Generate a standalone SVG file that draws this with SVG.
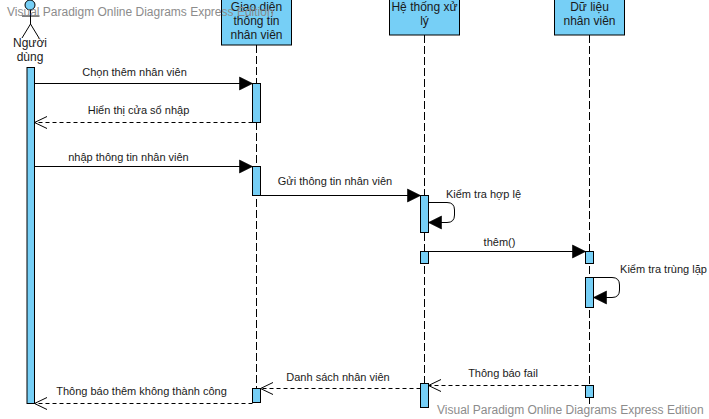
<svg xmlns="http://www.w3.org/2000/svg" width="709" height="419" viewBox="0 0 709 419">
<style>
text{font-family:"Liberation Sans",Arial,sans-serif;fill:#1a1a1a}
.h{font-size:12px;text-anchor:middle}
.l{font-size:11px;text-anchor:middle}
.wm{font-size:12px;fill:#8c8c8c}
.box,.act{fill:#76cff6;stroke:#000;stroke-width:1}
.life{fill:none;stroke:#000;stroke-width:1;stroke-dasharray:8 3}
.msg{fill:none;stroke:#000;stroke-width:1}
.ret{fill:none;stroke:#000;stroke-width:1;stroke-dasharray:4 3}
</style>
<defs>
<marker id="fill" markerUnits="userSpaceOnUse" markerWidth="16" markerHeight="16" refX="14" refY="8" orient="auto"><path d="M1 1.500L14 8L1 14.500Z" fill="#000" stroke="#000" stroke-width=".6"/></marker>
<marker id="open" markerUnits="userSpaceOnUse" markerWidth="15" markerHeight="15" refX="13.5" refY="7.5" orient="auto"><path d="M1 1.500L13.500 7.500L1 13.500" fill="none" stroke="#000"/></marker>
</defs>
<g id="lifelines">
<line class="life" x1="256.500" y1="45" x2="256.500" y2="403"/>
<line class="life" x1="424.500" y1="35" x2="424.500" y2="408"/>
<line class="life" x1="589.500" y1="35" x2="589.500" y2="404"/>
</g>
<g id="actor-nguoi-dung">
<circle cx="30" cy="5" r="5" class="box"/>
<path d="M30.500 10V24M22 16H39.500M30.500 24L22 38M30.500 24L39 38" fill="none" stroke="#000"/>
<text class="h" x="30" y="47">Người</text>
<text class="h" x="30" y="61">dùng</text>
<rect class="act" x="27" y="67.500" width="7.500" height="336"/>
</g>
<g id="node-giao-dien">
<rect class="box" x="221.500" y="-5" width="70" height="50"/>
<text class="h" x="256.500" y="11">Giao diện</text>
<text class="h" x="256.500" y="25">thông tin</text>
<text class="h" x="256.500" y="39">nhân viên</text>
<rect class="act" x="252.500" y="83.500" width="8" height="39"/>
<rect class="act" x="252.500" y="166.500" width="8" height="29"/>
<rect class="act" x="252.500" y="388.500" width="8" height="14"/>
</g>
<g id="node-he-thong">
<rect class="box" x="389.500" y="-5" width="70" height="40"/>
<text class="h" x="424.500" y="11">Hệ thống xử</text>
<text class="h" x="424.500" y="25">lý</text>
<rect class="act" x="420.500" y="195.500" width="8" height="37"/>
<rect class="act" x="420.500" y="251.500" width="8" height="12"/>
<rect class="act" x="420.500" y="383.500" width="8" height="24"/>
</g>
<g id="node-du-lieu">
<rect class="box" x="554.500" y="-5" width="70" height="40"/>
<text class="h" x="589.500" y="11">Dữ liệu</text>
<text class="h" x="589.500" y="25">nhân viên</text>
<rect class="act" x="585.500" y="251.500" width="8" height="12"/>
<rect class="act" x="585.500" y="277.500" width="8" height="30"/>
<rect class="act" x="585.500" y="385.500" width="8" height="12"/>
</g>
<g id="connectors">
<path class="msg" d="M34.500 83.500H252.500" marker-end="url(#fill)"/>
<path class="ret" d="M252.500 122.500H34.500" marker-end="url(#open)"/>
<path class="msg" d="M34.500 166.500H252.500" marker-end="url(#fill)"/>
<path class="msg" d="M260.500 195.500H420.500" marker-end="url(#fill)"/>
<path class="msg" d="M428.500 202.500H447Q454.500 202.500 454.500 210V215Q454.500 222.500 447 222.500H428.500" marker-end="url(#fill)"/>
<path class="msg" d="M428.500 251.500H585.500" marker-end="url(#fill)"/>
<path class="msg" d="M593.500 277.500H612Q619.500 277.500 619.500 285V290Q619.500 297.500 612 297.500H593.500" marker-end="url(#fill)"/>
<path class="ret" d="M585.500 385.500H428.500" marker-end="url(#open)"/>
<path class="ret" d="M420.500 388.500H260.500" marker-end="url(#open)"/>
<path class="ret" d="M252.500 403.500H34.500" marker-end="url(#open)"/>
</g>
<g id="labels">
<text class="l" x="134.500" y="76">Chọn thêm nhân viên</text>
<text class="l" x="138.500" y="114">Hiển thị cửa sổ nhập</text>
<text class="l" x="128.500" y="161">nhập thông tin nhân viên</text>
<text class="l" x="335" y="185">Gửi thông tin nhân viên</text>
<text class="l" x="483.500" y="198">Kiểm tra hợp lệ</text>
<text class="l" x="499.500" y="246">thêm()</text>
<text class="l" x="663.500" y="273">Kiểm tra trùng lặp</text>
<text class="l" x="503" y="377">Thông báo fail</text>
<text class="l" x="338" y="381">Danh sách nhân viên</text>
<text class="l" x="141.500" y="395">Thông báo thêm không thành công</text>
</g>
<g id="watermarks">
<text class="wm" x="7" y="16">Visual Paradigm Online Diagrams Express Edition</text>
<text class="wm" x="437" y="414">Visual Paradigm Online Diagrams Express Edition</text>
</g>
</svg>
